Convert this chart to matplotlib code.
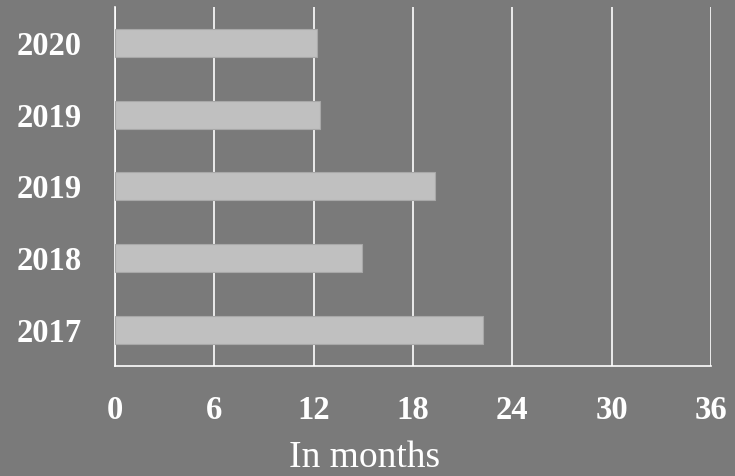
import matplotlib
matplotlib.use("Agg")
import matplotlib.pyplot as plt

# bottom to top
years = ["2017", "2018", "2019", "2019", "2020"]
months = [22.2, 14.9, 19.3, 12.4, 12.2]
xticks = [0, 6, 12, 18, 24, 30, 36]

bg = "#7a7a7a"
fig = plt.figure(figsize=(7.35, 4.76), dpi=100, facecolor=bg)
ax = fig.add_axes([0.1565, 0.2311, 0.8108, 0.7542], facecolor=bg)

pos = range(len(years))
ax.barh(pos, months, height=0.39, color="#c0c0c0", edgecolor="#a8a8a8",
        linewidth=0.8, zorder=3)

ax.set_xlim(0, 36)
ax.set_ylim(-0.5, len(years) - 0.5)
ax.set_xticks(xticks)
ax.set_yticks(list(pos))
ax.set_yticklabels(years)
ax.grid(axis="x", color="white", linewidth=1.2, zorder=0)

for s in ["top", "right"]:
    ax.spines[s].set_visible(False)
for s in ["left", "bottom"]:
    ax.spines[s].set_color("white")
    ax.spines[s].set_linewidth(1.2)

ax.tick_params(length=0, colors="white")
ax.tick_params(axis="x", pad=21)
ax.tick_params(axis="y", pad=24)
for lbl in ax.get_xticklabels() + ax.get_yticklabels():
    lbl.set_fontfamily("Liberation Serif")
    lbl.set_fontweight("bold")
    lbl.set_fontsize(23.5)

fig.text(365 / 735, 1 - 458 / 476, "In months", fontfamily="Liberation Serif",
         fontsize=27, color="white", ha="center", va="center")

fig.savefig("out.png", dpi=100, facecolor=bg)
